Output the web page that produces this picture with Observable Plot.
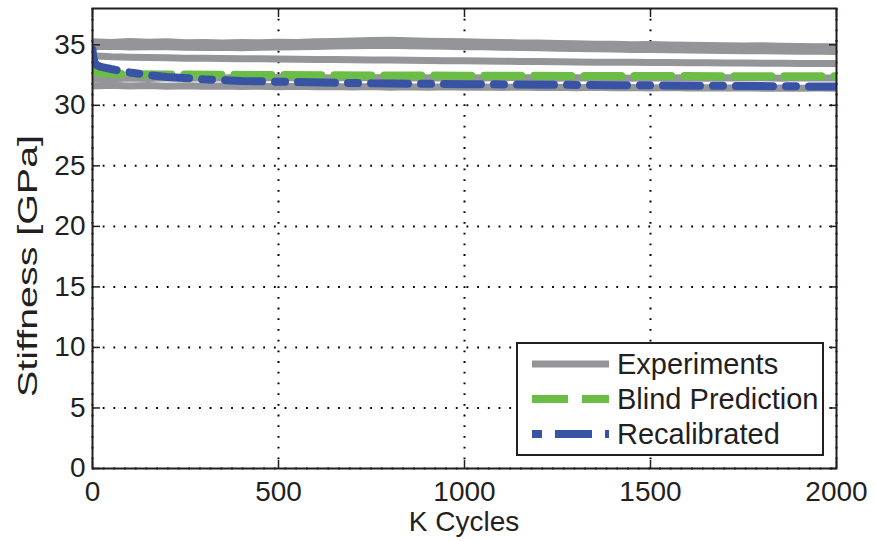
<!DOCTYPE html>
<html><head><meta charset="utf-8">
<script src="https://cdn.jsdelivr.net/npm/d3@7"></script>
<script src="https://cdn.jsdelivr.net/npm/@observablehq/plot@0.6"></script>
<style>
body{margin:0;background:#fff;}
#chart{position:relative;width:875px;height:541px;}
</style></head><body><div id="chart"></div>
<script>
const xTicks = [0, 500, 1000, 1500, 2000];
const yTicks = [0, 5, 10, 15, 20, 25, 30, 35];
const xLabel = "K Cycles";
const yLabel = "Stiffness [GPa]";
const legendLabels = ["Experiments", "Blind Prediction", "Recalibrated"];

const expCycles = [0,50,100,150,200,250,300,350,400,450,500,550,600,650,700,750,800,850,900,950,1000,1050,1100,1150,1200,1250,1300,1350,1400,1450,1500,1550,1600,1650,1700,1750,1800,1850,1900,1950,2000];
const exp1 = [35.25,35.2,35.28,35.22,35.25,35.18,35.2,35.15,35.2,35.17,35.22,35.2,35.25,35.28,35.32,35.35,35.38,35.33,35.3,35.27,35.25,35.22,35.2,35.15,35.15,35.1,35.08,35.05,35.05,35.0,35.02,34.98,34.97,34.95,34.93,34.9,34.92,34.88,34.87,34.85,34.83];
const exp2 = [34.85,34.88,34.82,34.85,34.83,34.8,34.78,34.8,34.76,34.8,34.82,34.85,34.86,34.9,34.93,34.95,34.97,34.93,34.9,34.88,34.85,34.83,34.8,34.77,34.75,34.72,34.7,34.68,34.65,34.62,34.62,34.6,34.58,34.55,34.53,34.52,34.5,34.48,34.47,34.46,34.45];
const exp3 = [34.1,34.02,33.98,33.95,33.93,33.9,33.88,33.87,33.85,33.84,33.82,33.8,33.79,33.78,33.76,33.75,33.74,33.72,33.7,33.69,33.68,33.66,33.65,33.63,33.62,33.6,33.59,33.57,33.56,33.55,33.54,33.53,33.52,33.51,33.5,33.49,33.48,33.47,33.46,33.45,33.45];
const exp4 = [32.15,32.2,32.25,32.22,32.27,32.24,32.28,32.25,32.3,32.27,32.3,32.26,32.29,32.25,32.3,32.27,32.3,32.26,32.28,32.25,32.29,32.26,32.3,32.27,32.28,32.24,32.27,32.25,32.28,32.24,32.27,32.25,32.28,32.24,32.27,32.25,32.28,32.24,32.27,32.25,32.26];
const exp5 = [31.6,31.65,31.6,31.63,31.58,31.62,31.57,31.6,31.55,31.58,31.54,31.57,31.53,31.56,31.52,31.55,31.5,31.54,31.5,31.53,31.49,31.52,31.48,31.51,31.47,31.5,31.46,31.49,31.45,31.48,31.44,31.47,31.44,31.46,31.43,31.45,31.42,31.44,31.41,31.43,31.42];

const blindCycles = [0,2,5,10,20,50,100,200,500,1000,1500,2000];
const blindValues = [33.6,33.1,32.85,32.72,32.65,32.6,32.58,32.55,32.5,32.45,32.42,32.4];

const recalCycles = [0,2,5,10,20,35,50,75,100,150,200,300,400,500,750,1000,1250,1500,1750,2000];
const recalValues = [34.6,34.0,33.6,33.35,33.2,33.1,33.0,32.85,32.72,32.5,32.35,32.15,32.02,31.95,31.82,31.75,31.7,31.65,31.6,31.55];

const colors = {exp: "#939598", blind: "#6cbd45", recal: "#3953a4", ink: "#231f20"};

const expData = [exp1, exp2, exp3, exp4, exp5].flatMap((s, i) => s.map((v, j) => ({run: i, x: expCycles[j], y: v})));
const blindData = blindCycles.map((x, i) => ({x, y: blindValues[i]}));
const recalData = recalCycles.map((x, i) => ({x, y: recalValues[i]}));

const gridStyle = {stroke: "#000", strokeOpacity: 1, strokeWidth: 2, strokeDasharray: "1.8,8.9"};
const fmt = d => String(d);

const plot = Plot.plot({
  width: 875, height: 541,
  marginLeft: 92, marginRight: 39, marginTop: 8, marginBottom: 73,
  style: {fontFamily: "'Liberation Sans', Arial, sans-serif", fontSize: "28px", color: colors.ink, background: "#fff"},
  x: {domain: [0, 2000]},
  y: {domain: [0, 38]},
  marks: [
    Plot.gridX(xTicks, gridStyle),
    Plot.gridY(yTicks, gridStyle),
    Plot.line(expData, {x: "x", y: "y", z: "run", stroke: colors.exp, strokeWidth: 7, clip: true}),
    Plot.line(blindData, {x: "x", y: "y", stroke: colors.blind, strokeWidth: 8, strokeDasharray: "37,13", strokeLinejoin: "miter", clip: true}),
    Plot.line(recalData, {x: "x", y: "y", stroke: colors.recal, strokeWidth: 8, strokeDasharray: "37,13,10,13", strokeLinejoin: "miter", clip: true}),
    Plot.frame({stroke: colors.ink, strokeWidth: 2}),
    Plot.axisX(xTicks, {anchor: "bottom", tickSize: -8, tickPadding: 21, tickFormat: fmt, fontSize: 28, strokeWidth: 1.5, label: null}),
    Plot.axisX(xTicks, {anchor: "top", tickSize: -8, tickFormat: () => "", strokeWidth: 1.5, label: null}),
    Plot.axisY(yTicks, {anchor: "left", tickSize: -8, tickPadding: 15, tickFormat: fmt, fontSize: 28, strokeWidth: 1.5, label: null}),
    Plot.axisY(yTicks, {anchor: "right", tickSize: -8, tickFormat: () => "", strokeWidth: 1.5, label: null})
  ]
});

const svg = d3.select(plot);
const font = "'Liberation Sans', Arial, sans-serif";

svg.append("text")
  .attr("x", 464).attr("y", 531)
  .attr("text-anchor", "middle")
  .attr("font-family", font).attr("font-size", 28).attr("fill", colors.ink)
  .text(xLabel);

svg.append("text")
  .attr("transform", "translate(37,266) rotate(-90)")
  .attr("text-anchor", "middle")
  .attr("font-family", font).attr("font-size", 28).attr("fill", colors.ink)
  .attr("textLength", 262).attr("lengthAdjust", "spacingAndGlyphs")
  .text(yLabel);

// Legend
const lg = svg.append("g").attr("transform", "translate(517,343)");
lg.append("rect").attr("width", 306).attr("height", 112).attr("fill", "#fff").attr("stroke", colors.ink).attr("stroke-width", 2);
const samples = [
  {stroke: colors.exp, width: 7, dash: null},
  {stroke: colors.blind, width: 8, dash: "36,14"},
  {stroke: colors.recal, width: 8, dash: "10,13,37,13"}
];
legendLabels.forEach((label, i) => {
  const cy = 21 + i * 35;
  const s = samples[i];
  const ln = lg.append("line").attr("x1", 15).attr("x2", 92).attr("y1", cy).attr("y2", cy)
    .attr("stroke", s.stroke).attr("stroke-width", s.width);
  if (s.dash) ln.attr("stroke-dasharray", s.dash);
  lg.append("text").attr("x", 100).attr("y", cy + 10)
    .attr("text-anchor", "start")
    .attr("font-family", font).attr("font-size", 29).attr("fill", colors.ink)
    .text(label);
});

document.getElementById("chart").appendChild(plot);
</script></body></html>
